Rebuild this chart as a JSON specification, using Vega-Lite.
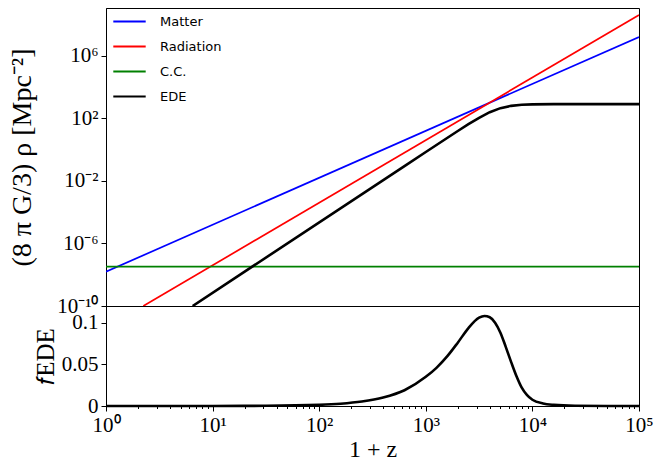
{
  "$schema": "https://vega.github.io/schema/vega-lite/v6.json",
  "padding": {"left": 8, "top": 4, "right": 5, "bottom": 2},
  "spacing": 0,
  "bounds": "flush",
  "datasets": {
    "rho": [
      {"series": "Matter", "x": 1, "rho": 1.549e-8},
      {"series": "Matter", "x": 100000, "rho": 1.549e7},
      {"series": "Radiation", "x": 2.239, "rho": 1e-10},
      {"series": "Radiation", "x": 100000, "rho": 3.98e8},
      {"series": "C.C.", "x": 1, "rho": 3.24e-8},
      {"series": "C.C.", "x": 100000, "rho": 3.24e-8},
      {"series": "EDE", "x": 6.5, "rho": 1e-10},
      {"series": "EDE", "x": 630.96, "rho": 0.0871},
      {"series": "EDE", "x": 1000, "rho": 0.692},
      {"series": "EDE", "x": 1258.9, "rho": 1.945},
      {"series": "EDE", "x": 1584.9, "rho": 5.458},
      {"series": "EDE", "x": 1995.3, "rho": 15.21},
      {"series": "EDE", "x": 2511.9, "rho": 41.4},
      {"series": "EDE", "x": 3162.3, "rho": 106.4},
      {"series": "EDE", "x": 3981.1, "rho": 241.5},
      {"series": "EDE", "x": 5011.9, "rho": 438.5},
      {"series": "EDE", "x": 6309.6, "rho": 616.6},
      {"series": "EDE", "x": 7943.3, "rho": 721.1},
      {"series": "EDE", "x": 10000, "rho": 767.4},
      {"series": "EDE", "x": 15849, "rho": 790.7},
      {"series": "EDE", "x": 31623, "rho": 794.3},
      {"series": "EDE", "x": 100000, "rho": 794.3}
    ],
    "fede": [
      {"x": 1, "f": 0},
      {"x": 10, "f": 0.00005},
      {"x": 31.62, "f": 0.00025},
      {"x": 100, "f": 0.0014},
      {"x": 158.5, "f": 0.0027},
      {"x": 251.2, "f": 0.0053},
      {"x": 398.1, "f": 0.0101},
      {"x": 631, "f": 0.0189},
      {"x": 1000, "f": 0.035},
      {"x": 1259, "f": 0.0458},
      {"x": 1585, "f": 0.0595},
      {"x": 1995, "f": 0.076},
      {"x": 2512, "f": 0.0935},
      {"x": 3162, "f": 0.106},
      {"x": 3548, "f": 0.108},
      {"x": 3981, "f": 0.1065},
      {"x": 4467, "f": 0.1},
      {"x": 5012, "f": 0.088},
      {"x": 5623, "f": 0.071},
      {"x": 6310, "f": 0.053},
      {"x": 7079, "f": 0.036},
      {"x": 7943, "f": 0.022},
      {"x": 8913, "f": 0.013},
      {"x": 10000, "f": 0.0075},
      {"x": 12589, "f": 0.003},
      {"x": 15849, "f": 0.0014},
      {"x": 25119, "f": 0.0003},
      {"x": 50119, "f": 0.00003},
      {"x": 100000, "f": 0}
    ]
  },
  "vconcat": [
    {
      "width": 533,
      "height": 298,
      "data": {"name": "rho"},
      "mark": {"type": "line", "clip": true},
      "encoding": {
        "x": {
          "field": "x",
          "type": "quantitative",
          "scale": {"type": "log", "domain": [1, 100000], "nice": false},
          "axis": null
        },
        "y": {
          "field": "rho",
          "type": "quantitative",
          "scale": {"type": "log", "domain": [1e-10, 1.1e9], "nice": false},
          "axis": {
            "values": [1e-10, 1e-6, 0.01, 100, 1000000],
            "labelExpr": "datum.value < 1e-9 ? '10⁻¹⁰' : datum.value < 1e-5 ? '10⁻⁶' : datum.value < 0.1 ? '10⁻²' : datum.value < 1000 ? '10²' : '10⁶'",
            "title": "(8 π G/3) ρ  [Mpc⁻²]",
            "titleFontSize": 28,
            "titlePadding": 20
          }
        },
        "color": {
          "field": "series",
          "type": "nominal",
          "scale": {
            "domain": ["Matter", "Radiation", "C.C.", "EDE"],
            "range": ["#0000ff", "#ff0000", "#008000", "#000000"]
          },
          "legend": {
            "title": null,
            "orient": "none",
            "legendX": 6,
            "legendY": -4,
            "padding": 0,
            "rowPadding": -1,
            "symbolType": "stroke",
            "symbolSize": 1050,
            "symbolStrokeWidth": 2,
            "labelFont": "DejaVu Sans",
            "labelFontSize": 13,
            "labelColor": "black",
            "labelOffset": 13
          }
        },
        "strokeWidth": {
          "condition": {"test": "datum.series === 'EDE'", "value": 2.6},
          "value": 1.7
        }
      }
    },
    {
      "width": 533,
      "height": 100,
      "data": {"name": "fede"},
      "mark": {"type": "line", "color": "black", "strokeWidth": 2.6, "interpolate": "monotone"},
      "encoding": {
        "x": {
          "field": "x",
          "type": "quantitative",
          "scale": {"type": "log", "domain": [1, 100000], "nice": false},
          "axis": {
            "values": [1, 2, 3, 4, 5, 6, 7, 8, 9, 10, 20, 30, 40, 50, 60, 70, 80, 90, 100, 200, 300, 400, 500, 600, 700, 800, 900, 1000, 2000, 3000, 4000, 5000, 6000, 7000, 8000, 9000, 10000, 20000, 30000, 40000, 50000, 60000, 70000, 80000, 90000, 100000],
            "labelExpr": "datum.value == 1 ? '10⁰' : datum.value == 10 ? '10¹' : datum.value == 100 ? '10²' : datum.value == 1000 ? '10³' : datum.value == 10000 ? '10⁴' : datum.value == 100000 ? '10⁵' : ''",
            "tickSize": {
              "condition": {"test": "indexof([1,10,100,1000,10000,100000], datum.value) >= 0", "value": 5},
              "value": 2.5
            },
            "labelFlush": false,
            "labelOverlap": false,
            "title": "1 + z",
            "titleFontSize": 24,
            "titlePadding": 2
          }
        },
        "y": {
          "field": "f",
          "type": "quantitative",
          "scale": {"domain": [0, 0.12], "nice": false},
          "axis": {
            "values": [0, 0.05, 0.1],
            "labelExpr": "datum.value == 0 ? '0' : format(datum.value, '.2~f')",
            "title": "𝑓EDE",
            "titleFontSize": 25,
            "titlePadding": 3
          }
        }
      }
    }
  ],
  "config": {
    "view": {"stroke": "black", "strokeWidth": 1},
    "axis": {
      "grid": false,
      "domainColor": "black",
      "tickColor": "black",
      "tickSize": 5,
      "labelColor": "black",
      "labelFont": "Liberation Serif",
      "labelFontSize": 21,
      "labelPadding": 3,
      "titleFont": "Liberation Serif",
      "titleFontSize": 23,
      "titleFontWeight": "normal",
      "titleColor": "black"
    }
  }
}
